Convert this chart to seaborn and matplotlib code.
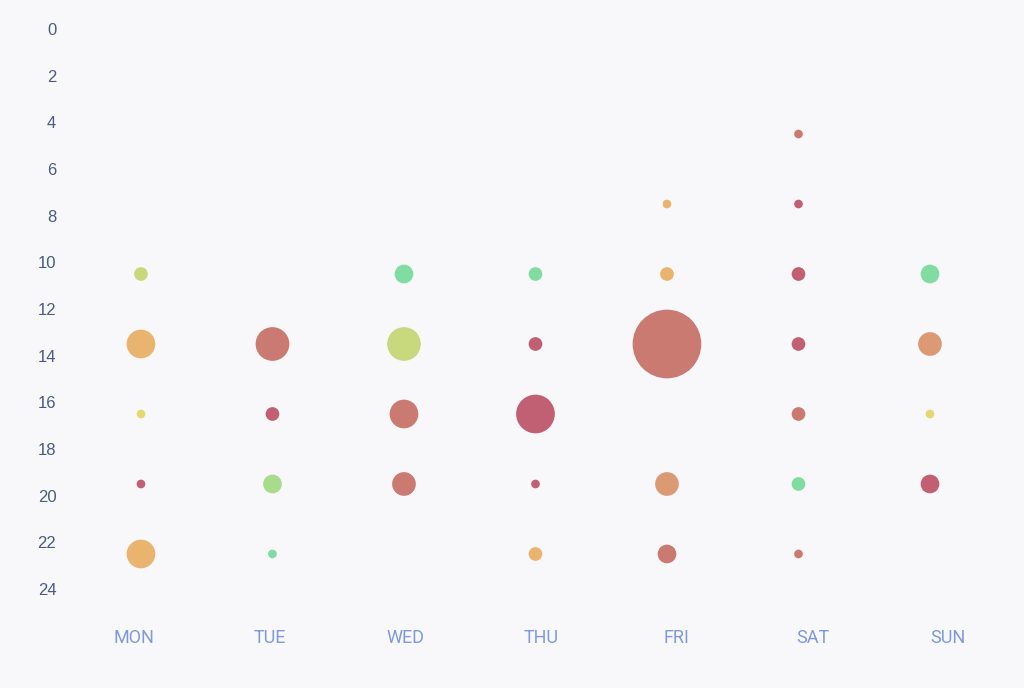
import matplotlib
matplotlib.use("Agg")
import matplotlib.pyplot as plt
import seaborn as sns
import numpy as np
import pandas as pd

days = ["MON", "TUE", "WED", "THU", "FRI", "SAT", "SUN"]

# one entry per bubble
point_day = [0, 0, 0, 0, 0,
             1, 1, 1, 1,
             2, 2, 2, 2,
             3, 3, 3, 3, 3,
             4, 4, 4, 4, 4,
             5, 5, 5, 5, 5, 5, 5,
             6, 6, 6, 6]
point_hour = [10.5, 13.5, 16.5, 19.5, 22.5,
              13.5, 16.5, 19.5, 22.5,
              10.5, 13.5, 16.5, 19.5,
              10.5, 13.5, 16.5, 19.5, 22.5,
              7.5, 10.5, 13.5, 19.5, 22.5,
              4.5, 7.5, 10.5, 13.5, 16.5, 19.5, 22.5,
              10.5, 13.5, 16.5, 19.5]
point_value = [2, 5, 1, 1, 5,
               6, 2, 3, 1,
               3, 6, 5, 4,
               2, 2, 7, 1, 2,
               1, 2, 13, 4, 3,
               1, 1, 2, 2, 2, 2, 1,
               3, 4, 1, 3]
point_tone = ["yg", "lo", "y", "cr", "lo",
              "sa", "cr", "lg", "g",
              "g", "yg", "sa", "sa",
              "g", "cr", "cr", "cr", "lo",
              "lo", "lo", "sa", "or", "sa",
              "sa", "cr", "cr", "cr", "sa", "g", "sa",
              "g", "or", "y", "cr"]

tones = {
    "cr": "#C06072",
    "sa": "#CB7A72",
    "or": "#DC9A74",
    "lo": "#E9B46E",
    "y": "#E5D872",
    "yg": "#C8D87C",
    "lg": "#A8DC8C",
    "g": "#80DCA0",
}

df = pd.DataFrame({
    "day": point_day,
    "hour": point_hour,
    "value": point_value,
    "tone": point_tone,
})

bg = "#F8F8FB"
fig = plt.figure(figsize=(10.24, 6.88), dpi=100, facecolor=bg)
ax = fig.add_axes([66 / 1024, 1 - 612.3 / 688, 950 / 1024, 606.6 / 688])
ax.set_facecolor(bg)

# bubble diameter grows ~5px per unit
sizes = {v: ((5 * v + 3.7) * 0.72) ** 2 for v in sorted(set(point_value))}

sns.scatterplot(
    data=df,
    x="day",
    y="hour",
    hue="tone",
    palette=tones,
    size="value",
    sizes=sizes,
    linewidth=0,
    alpha=1,
    legend=False,
    ax=ax,
)

x0, x1 = -0.570, 6.654
ax.set_xlim(x0, x1)
ax.set_ylim(25, -1)

band = (x1 - x0) / len(days)
ax.set_xticks(x0 + band * (np.arange(len(days)) + 0.5))
ax.set_xticklabels(days, fontsize=13, color="#7F9AD8", family=["Roboto", "DejaVu Sans"])
ax.set_yticks(np.arange(0, 25, 2))
ax.set_yticklabels([str(h) for h in range(0, 25, 2)], fontsize=12, color="#4B5A7E",
                   family=["Liberation Sans", "DejaVu Sans"])
ax.tick_params(axis="x", length=0, pad=12)
ax.tick_params(axis="y", length=0, pad=7)
ax.set_xlabel("")
ax.set_ylabel("")
for s in ax.spines.values():
    s.set_visible(False)
ax.grid(False)

fig.savefig("out.png", dpi=100, facecolor=bg)
